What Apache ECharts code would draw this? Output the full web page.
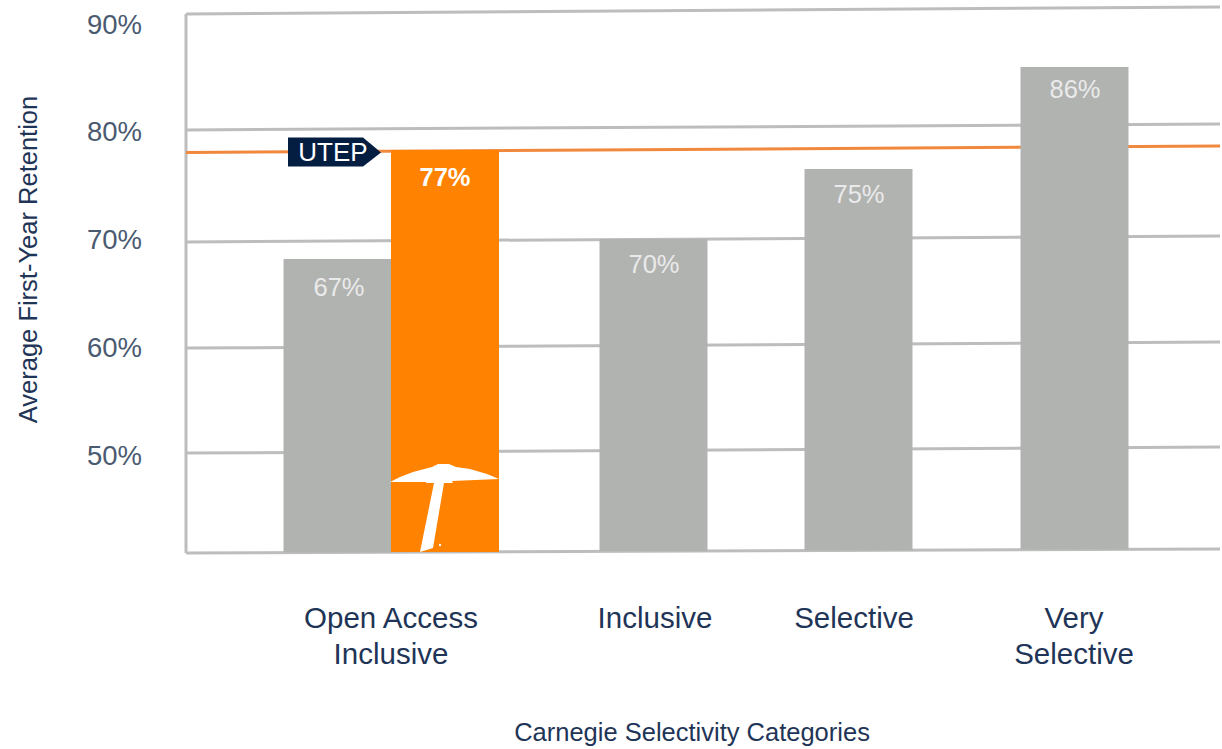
<!DOCTYPE html>
<html>
<head>
<meta charset="utf-8">
<style>
  html, body { margin: 0; padding: 0; background: #fff; }
  #chart { width: 1222px; height: 749px; }
</style>
<script src="https://cdn.jsdelivr.net/npm/echarts@6/dist/echarts.min.js"></script>
</head>
<body>
<div id="chart"></div>
<script>
const categories = ['Open Access\nInclusive', 'Inclusive', 'Selective', 'Very\nSelective']
const tickLabels = ['90%', '80%', '70%', '60%', '50%']
// bar heights as drawn, the printed labels do not quite agree with them
const grayValues = [68.2, 70.06, 76.55, 86.01]
const grayLabels = ['67%', '70%', '75%', '86%']
const utepValues = [78.31, null, null, null]
const utepLabels = ['77%', '', '', '']
// the original slide is slightly tilted, so lines differ left to right
const gridAtLeft = [90.93, 80.17, 69.78, 59.94, 50.2]
const gridAtRight = [91.58, 80.72, 70.33, 60.5, 50.76]
const baseAtEnds = [40.93, 41.3]
const utepLineAtEnds = [78.08, 78.68]

const FONT = '"Liberation Sans", Arial, sans-serif'
const GRID_GRAY = '#bcbdbc'
const BAR_GRAY = '#b1b3b1'
const ORANGE = '#ff8200'
const NAVY = '#041e42'
const BAR_W = 108
const GRID_LEFT = 186
const GRID_W = 1034
// the four groups are not evenly spaced in the original
const groupNudge = [0, 35.5, 13.5, 2.5]
const labelNudge = [0, 37, 9, 2]
const labelDrop = [28, 25, 25, 22]

const chart = echarts.init(document.getElementById('chart'), null, { renderer: 'svg' })

function slantLine(name, from, to, color, width, z) {
  return {
    name,
    type: 'line',
    xAxisIndex: 0,
    yAxisIndex: 0,
    clip: false,
    silent: true,
    symbol: 'none',
    z,
    lineStyle: { color, width },
    data: [[0, from], [1, to]],
  }
}

function baseAt(px) {
  const f = (px - GRID_LEFT) / GRID_W
  return baseAtEnds[0] + (baseAtEnds[1] - baseAtEnds[0]) * f
}

function renderBar(fill, labelColor, labelWeight, shift, drop, labelShift) {
  return function (params, api) {
    const idx = api.value(0)
    const top = api.coord([idx, api.value(1)])
    const cx = top[0] + groupNudge[idx] + shift
    const bottom = api.coord([idx, baseAt(cx)])[1]
    return {
      type: 'group',
      children: [
        {
          type: 'rect',
          shape: { x: cx - BAR_W / 2, y: top[1], width: BAR_W, height: bottom - top[1] },
          style: { fill },
        },
        {
          type: 'text',
          x: cx + labelShift,
          y: top[1] + drop[idx],
          style: {
            text: api.value(2),
            fill: labelColor,
            font: labelWeight + ' 25.5px ' + FONT,
            align: 'center',
            verticalAlign: 'middle',
          },
        },
      ],
    }
  }
}

function renderUtepMarks(params, api) {
  const top = api.coord([0, api.value(1)])
  const left = top[0] + groupNudge[0]
  const lineY = api.coord([0, utepLineAtEnds[0]])[1]
  const tipX = left - 10
  return {
    type: 'group',
    children: [
      {
        type: 'polygon',
        shape: { points: [[tipX - 93, lineY - 15], [tipX - 18, lineY - 15], [tipX, lineY], [tipX - 18, lineY + 14], [tipX - 93, lineY + 14]] },
        style: { fill: NAVY },
      },
      {
        type: 'text',
        x: tipX - 48,
        y: lineY,
        style: { text: 'UTEP', fill: '#fff', font: '26px ' + FONT, align: 'center', verticalAlign: 'middle' },
      },
      {
        // pick axe logo
        type: 'group',
        x: left,
        y: 450,
        children: [
          {
            type: 'polygon',
            shape: { points: [[-1, 32], [9, 27], [22, 22], [41, 17], [47, 14], [58, 14], [65, 17], [79, 19], [96, 24], [108, 29], [61, 31], [62, 33], [53, 33], [42, 98], [29, 102], [43, 33], [35, 33], [35, 32]] },
            style: { fill: '#fff' },
          },
          { type: 'circle', shape: { cx: 49, cy: 95, r: 1.2 }, style: { fill: '#fff' } },
        ],
      },
    ],
  }
}

chart.setOption({
  animation: false,
  backgroundColor: '#fff',
  grid: [
    { left: GRID_LEFT, width: GRID_W, top: 24, bottom: 186, outerBoundsMode: 'none' },
    { left: 277.5, width: 908, top: 24, bottom: 186, outerBoundsMode: 'none' },
  ],
  xAxis: [
    { type: 'value', gridIndex: 0, min: 0, max: 1, show: false },
    {
      type: 'category',
      gridIndex: 1,
      data: categories.map((c, i) => ({
        value: c,
        textStyle: {
          fontFamily: FONT,
          fontSize: 29.5,
          lineHeight: 36,
          color: '#1f3557',
          padding: [0, 0, 0, labelNudge[i] * 2],
        },
      })),
      axisLine: { show: false },
      axisTick: { show: false },
      axisLabel: {
        margin: 36,
        interval: 0,
        fontFamily: FONT,
        fontSize: 29.5,
        lineHeight: 36,
        color: '#1f3557',
      },
      name: 'Carnegie Selectivity Categories',
      nameLocation: 'middle',
      nameGap: 156,
      nameTextStyle: { fontFamily: FONT, fontSize: 25.5, color: '#1f3557', padding: [0, 79, 0, 0] },
    },
  ],
  yAxis: [
    {
      type: 'value',
      gridIndex: 0,
      min: 40,
      max: 90,
      interval: 10,
      axisLine: { show: false },
      axisTick: { show: false },
      splitLine: { show: false },
      axisLabel: {
        margin: 44,
        fontFamily: FONT,
        fontSize: 27.5,
        color: '#4a5a70',
        formatter: (v) => (tickLabels.includes(v + '%') ? v + '%' : ''),
      },
      name: 'Average First-Year Retention',
      nameLocation: 'middle',
      nameGap: 145,
      nameTextStyle: { fontFamily: FONT, fontSize: 25.5, color: '#1f3557', padding: [0, 0, 0, 68] },
    },
    { type: 'value', gridIndex: 1, min: 40, max: 90, interval: 10, show: false },
  ],
  series: [
    ...gridAtLeft.map((v, i) => slantLine('grid' + i, v, gridAtRight[i], GRID_GRAY, 3, 1)),
    slantLine('base', baseAtEnds[0], baseAtEnds[1], GRID_GRAY, 3, 1),
    {
      name: 'axis',
      type: 'line',
      clip: false,
      silent: true,
      symbol: 'none',
      z: 1,
      lineStyle: { color: GRID_GRAY, width: 3 },
      data: [[0, gridAtLeft[0]], [0, baseAtEnds[0]]],
    },
    slantLine('UTEP level', utepLineAtEnds[0], utepLineAtEnds[1], '#f0883e', 3, 2),
    {
      name: 'Peers',
      type: 'custom',
      xAxisIndex: 1,
      yAxisIndex: 1,
      z: 3,
      silent: true,
      clip: false,
      encode: { x: 0, y: 1 },
      renderItem: function (params, api) {
        const idx = api.value(0)
        // first gray bar sits to the left of the UTEP bar
        return renderBar(BAR_GRAY, '#eaeaea', 'normal', idx === 0 ? 0.5 - BAR_W / 2 : 0, labelDrop, idx === 0 ? 1.5 : 0.5)(params, api)
      },
      data: grayValues.map((v, i) => [i, v, grayLabels[i]]),
    },
    {
      name: 'UTEP',
      type: 'custom',
      xAxisIndex: 1,
      yAxisIndex: 1,
      z: 4,
      silent: true,
      clip: false,
      encode: { x: 0, y: 1 },
      renderItem: renderBar(ORANGE, '#fff', 'bold', BAR_W / 2, [27], 0),
      data: utepValues.map((v, i) => [i, v, utepLabels[i]]).filter((d) => d[1] !== null),
    },
    {
      name: 'UTEP marks',
      type: 'custom',
      xAxisIndex: 1,
      yAxisIndex: 1,
      z: 5,
      silent: true,
      clip: false,
      encode: { x: 0, y: 1 },
      renderItem: renderUtepMarks,
      data: [[0, utepValues[0]]],
    },
  ],
})
</script>
</body>
</html>
